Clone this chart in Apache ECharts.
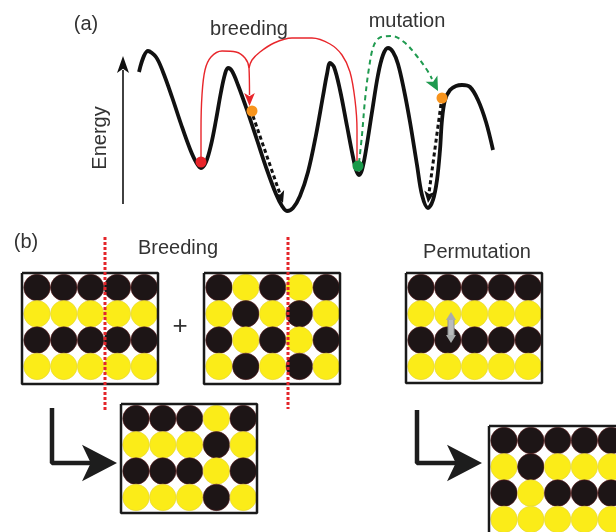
<!DOCTYPE html>
<html>
<head>
<meta charset="utf-8">
<script src="https://cdn.jsdelivr.net/npm/echarts@6/dist/echarts.min.js"></script>
<style>html,body{margin:0;padding:0;background:#fff}#c{width:616px;height:532px}</style>
</head>
<body>
<div id="c"></div>
<script>
// ---------- data ----------
// energy landscape: [x, energy-height (screen y)]
const energyCurve = [[139,72],[148,51],[156,57],[163,72],[172,97],[181,124],[190,149],[196,162],[201,168],
  [206,162],[211,145],[216,120],[221,92],[225,74],[228,68],
  [232,71],[238,85],[247,110],[257,140],[267,170],[276,194],[282,206],[287,211],
  [293,208],[300,196],[308,172],[316,135],[323,96],[327,74],[330,63],
  [334,67],[340,90],[347,126],[353,157],[356,170],[359,175],
  [362,170],[366,150],[372,112],[378,75],[383,55],[388,48],
  [393,52],[398,64],[404,90],[410,122],[417,165],[422,195],[428,208],
  [433,200],[437,180],[440,150],[442,120],[445,100],[450,90],[456,86],[462,85],
  [470,87],[478,100],[486,122],[493,150]];
const breedPathA = [[201,162],[201,130],[202,95],[205,70],[211,57],[222,51],[236,52],[245,58],[249,68],[249.5,95]];
const breedPathB = [[357,164],[357,130],[355,100],[350,72],[342,55],[330,44],[312,38],[292,38],[274,43],[260,52],[252,60],[249,68]];
const mutationPath = [[359,163],[362,135],[365,100],[369,68],[374,45],[381,37],[392,36],[404,42],[416,55],[427,70],[432,79]];
const relaxA = [[253,116],[280,194]];
const relaxB = [[441,104],[429,193]];
const energyAxis = [[123,204],[123,70]];
const redDot = [[201,162]];
const greenDot = [[358,166]];
const orangeDots = [[252,111],[442,98]];

// atom patterns (B = black, Y = yellow), rows top to bottom
const parentA    = ['BBBBB','YYYYY','BBBBB','YYYYY'];
const parentB    = ['BYBYB','YBYBY','BYBYB','YBYBY'];
const childAB    = ['BBBYB','YYYBY','BBBYB','YYYBY'];
const permParent = ['BBBBB','YYYYY','BBBBB','YYYYY'];
const permChild  = ['BBBBB','YBYYY','BYBBB','YYYYY'];

// ---------- layout ----------
const boxLayout = [
  {p: parentA,    x: 22,  y: 273, w: 136, h: 111},
  {p: parentB,    x: 204, y: 273, w: 136, h: 111},
  {p: childAB,    x: 121, y: 404, w: 136, h: 109},
  {p: permParent, x: 406, y: 273, w: 136, h: 110},
  {p: permChild,  x: 489, y: 426, w: 140, h: 120}
];
const cutLines = [[[105,237],[105,412]],[[288,237],[288,409]]];
const lArrows = [[[52,408],[52,463],[100,463]],[[417,410],[417,463],[465,463]]];
const lTips = [[117,463],[482,463]];

const BLACK = '#1d1516', YELLOW = '#fbec18';

// arrow symbol is anchored at its tip; triangle at its centre
function head(from, tip, len, wid, color, sym) {
  const dx = tip[0]-from[0], dy = tip[1]-from[1];
  const d = Math.hypot(dx, dy), ux = dx/d, uy = dy/d;
  const atTip = !sym || sym === 'arrow';
  const pos = atTip ? [tip[0], tip[1]] : [tip[0]-ux*len/2, tip[1]-uy*len/2];
  return {value: pos, symbol: sym || 'arrow',
    symbolSize: [wid, len], symbolRotate: Math.atan2(-dx, -dy)*180/Math.PI,
    itemStyle: {color: color, opacity: 1}};
}

const circles = [];
const series = [];
boxLayout.forEach(function (b) {
  b.p.forEach(function (row, j) {
    row.split('').forEach(function (c, i) {
      circles.push({value: [b.x + 15 + 26.8*i, b.y + 14.5 + 26.3*j],
        itemStyle: c === 'B' ? {color: BLACK, borderColor: '#5a1a1a', borderWidth: 0.6, opacity: 1}
                             : {color: YELLOW, borderColor: '#e2d33c', borderWidth: 0.6, opacity: 1}});
    });
  });
  series.push({type: 'line', z: 6, silent: true, symbol: 'none',
    data: [[b.x,b.y],[b.x+b.w,b.y],[b.x+b.w,b.y+b.h],[b.x,b.y+b.h],[b.x,b.y]],
    lineStyle: {color: '#1a1a1a', width: 2.5}});
});
series.push({type: 'scatter', z: 5, silent: true, symbolSize: 26.5, itemStyle: {opacity: 1}, data: circles});

function line(data, color, width, type, smooth, z) {
  series.push({type: 'line', z: z || 3, silent: true, symbol: 'none', smooth: smooth || false,
    data: data, lineStyle: {color: color, width: width, type: type || 'solid', cap: 'butt'}});
}
line(energyCurve, '#111', 3.8, 'solid', 0.35, 2);
line(breedPathA, '#e8262b', 1.4, 'solid', 0.35, 3);
line(breedPathB, '#e8262b', 1.4, 'solid', 0.35, 3);
line(mutationPath, '#1f9a4f', 2, [5,4], 0.35, 3);
line(relaxA, '#111', 3, [4,3], false, 3);
line(relaxB, '#111', 3, [4,3], false, 3);
line(energyAxis, '#111', 1.6, 'solid', false, 3);
cutLines.forEach(function (c) { line(c, '#e4252a', 3, [3,2], false, 8); });
lArrows.forEach(function (c) { line(c, '#1d1d1d', 4.5, 'solid', false, 3); });
// grey swap arrow
line([[451,318],[451,337]], '#8d9090', 7, 'solid', false, 7);
line([[451,318],[451,337]], '#b9bcbc', 5, 'solid', false, 7);

const heads = [
  head([249.5,90],[249.5,106],13,8,'#e8262b'),
  head([427,70],[438,91],14,10,'#1f9a4f'),
  head(relaxA[0],[283,203],12,8,'#111'),
  head(relaxB[0],[428,203],12,8,'#111'),
  head([123,100],[123,56],17,9,'#111'),
  head(lArrows[0][1], lTips[0], 35, 27.5, '#1d1d1d'),
  head(lArrows[1][1], lTips[1], 35, 27.5, '#1d1d1d')
];
const swapHeads = [
  head([451,330],[451,312],8,10,'#a9acac','triangle'),
  head([451,320],[451,343],8,10,'#a9acac','triangle')
];
series.push({type: 'scatter', z: 4, silent: true, itemStyle: {opacity: 1}, data: heads});
series.push({type: 'scatter', z: 7, silent: true, itemStyle: {opacity: 1}, data: swapHeads});
series.push({type: 'scatter', z: 9, silent: true, symbolSize: 11, itemStyle: {opacity: 1},
  data: redDot.map(function (p) { return {value: p, itemStyle: {color: '#e8242a'}}; })
    .concat(greenDot.map(function (p) { return {value: p, itemStyle: {color: '#1a9a4a'}}; }))
    .concat(orangeDots.map(function (p) { return {value: p, itemStyle: {color: '#f7941d'}}; }))});

const FONT = '"Liberation Sans", Arial, sans-serif';
function txt(s, x, y, size, rot) {
  return {type: 'text', x: x, y: y, rotation: rot || 0, silent: true, z: 10,
    style: {text: s, fontSize: size, fontFamily: FONT, fill: '#333', align: 'center', verticalAlign: 'middle'}};
}

const chart = echarts.init(document.getElementById('c'), null, {renderer: 'canvas'});
chart.setOption({
  animation: false,
  backgroundColor: '#fff',
  grid: {left: 0, right: 0, top: 0, bottom: 0},
  xAxis: {type: 'value', min: 0, max: 616, show: false},
  yAxis: {type: 'value', min: 0, max: 532, inverse: true, show: false},
  series: series,
  graphic: [
    txt('(a)', 86, 24, 20),
    txt('breeding', 249, 29, 20),
    txt('mutation', 407, 21, 20),
    txt('Energy', 100, 138, 20, Math.PI/2),
    txt('(b)', 26, 242, 20),
    txt('Breeding', 178, 248, 20),
    txt('Permutation', 477, 252, 20),
    txt('+', 180, 327, 26)
  ]
});
</script>
</body>
</html>
